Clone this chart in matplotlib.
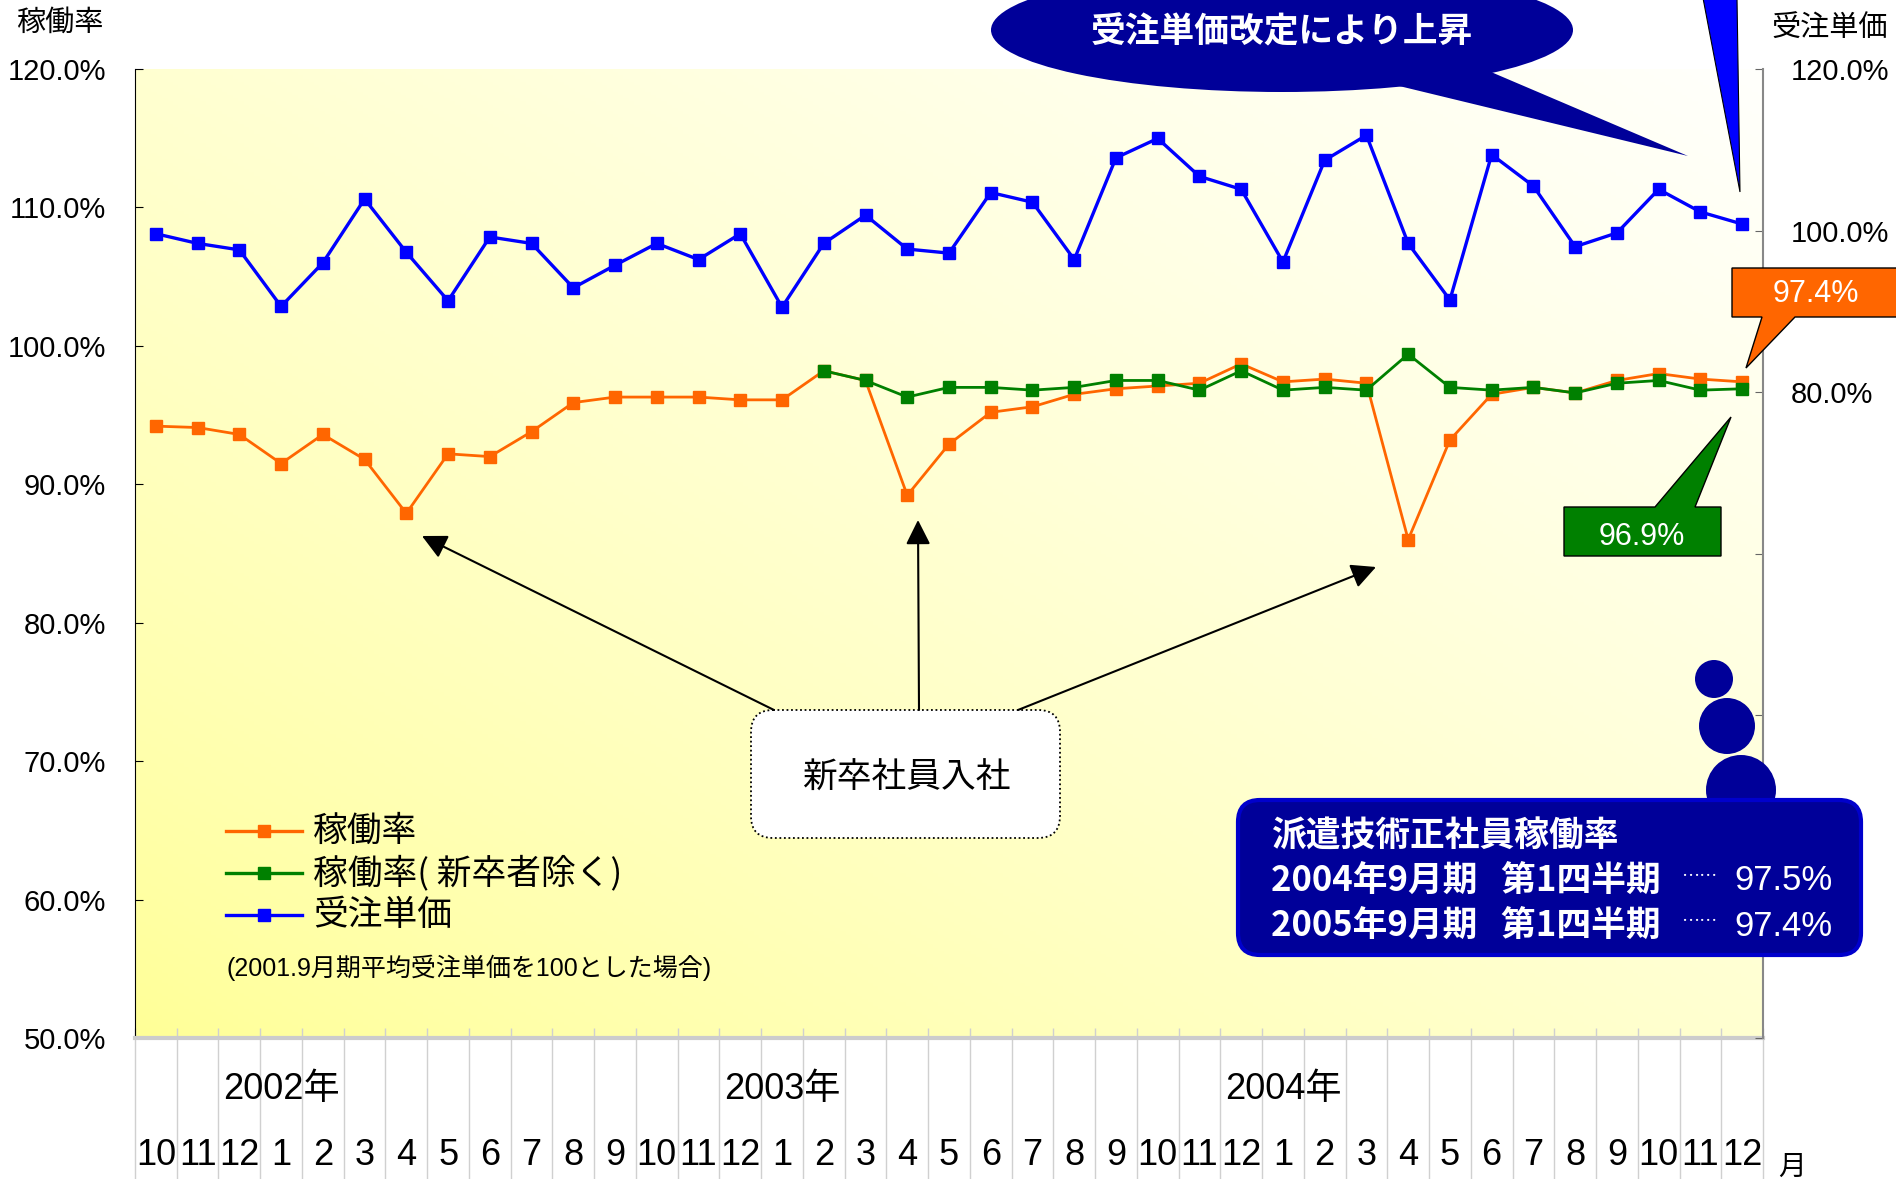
import numpy as np
import matplotlib
matplotlib.use("Agg")
import matplotlib.pyplot as plt
from matplotlib import font_manager as fm
from matplotlib.patches import Ellipse, Polygon, FancyBboxPatch, FancyArrowPatch
from matplotlib.lines import Line2D
from matplotlib.transforms import Affine2D
from matplotlib.ticker import FuncFormatter

# months 2001/10 .. 2004/12
months = ["10", "11", "12"] + [str(m) for m in range(1, 13)] * 3
years = ["2002年", "2003年", "2004年"]
year_pos = [3, 15, 27]

# 稼働率
rate = [94.2, 94.1, 93.6, 91.5, 93.6, 91.8, 87.9, 92.2, 92.0, 93.8,
        95.9, 96.3, 96.3, 96.3, 96.1, 96.1, 98.2, 97.5, 89.2, 92.9,
        95.2, 95.6, 96.5, 96.9, 97.1, 97.3, 98.7, 97.4, 97.6, 97.3,
        86.0, 93.2, 96.5, 97.0, 96.6, 97.5, 98.0, 97.6, 97.4]
# 稼働率(新卒者除く) from 2003/2
rate_ex_start = 16
rate_ex = [98.2, 97.5, 96.3, 97.0,
           97.0, 96.8, 97.0, 97.5, 97.5, 96.8, 98.2, 96.8, 97.0, 96.8,
           99.4, 97.0, 96.8, 97.0, 96.6, 97.3, 97.5, 96.8, 96.9]
# 受注単価 (2001.9 = 100)
price = [99.6, 98.4, 97.6, 90.6, 96.0, 103.9, 97.3, 91.3, 99.2, 98.4,
         92.9, 95.7, 98.4, 96.4, 99.6, 90.5, 98.4, 101.9, 97.7, 97.2,
         104.7, 103.5, 96.4, 109.0, 111.4, 106.7, 105.1, 96.1, 108.7, 111.8,
         98.4, 91.4, 109.4, 105.5, 98.0, 99.7, 105.1, 102.3, 100.8]

names = {f.name for f in fm.fontManager.ttflist}
narrow = "Liberation Sans Narrow" if "Liberation Sans Narrow" in names else "Liberation Sans"
CJK = "Noto Sans CJK JP"
plt.rcParams["font.family"] = [narrow, CJK, "DejaVu Sans"]

W, H = 1896, 1179
fig = plt.figure(figsize=(W / 100, H / 100), dpi=100)
fig.patch.set_facecolor("white")
# pixel coords measured from top-left
PX = Affine2D().scale(1 / W, -1 / H).translate(0, 1) + fig.transFigure


def ftext(x, y, s, **kw):
    fig.text(x / W, 1 - y / H, s, **kw)


ax = fig.add_axes([135 / W, 1 - 1038 / H, (1763 - 135) / W, (1038 - 69) / H])
ax.set_facecolor("none")

# yellow -> white diagonal background
gx, gy = np.meshgrid(np.linspace(0, 1, 300), np.linspace(0, 1, 300))
t = np.clip((gx + gy) / 2, 0, 1) ** 0.8
yel = np.array([255, 255, 150]) / 255
wht = np.array([255, 255, 252]) / 255
img = yel[None, None, :] * (1 - t[..., None]) + wht[None, None, :] * t[..., None]
ax.imshow(img, extent=[0, 1, 0, 1], transform=ax.transAxes, origin="lower",
          aspect="auto", zorder=0)

x = np.arange(len(months))
ax.plot(x, rate, color="#FF6600", lw=2, marker="s", ms=8, zorder=3)
ax.plot(np.arange(rate_ex_start, rate_ex_start + len(rate_ex)), rate_ex,
        color="#008000", lw=2, marker="s", ms=8, zorder=4)

ax.set_xlim(-0.5, len(months) - 0.5)
ax.set_ylim(50, 120)
ax.set_yticks(np.arange(50, 121, 10))
ax.yaxis.set_major_formatter(FuncFormatter(lambda v, p: f"{v:.1f}%"))
ax.tick_params(axis="y", direction="in", length=6, labelsize=21, pad=21)
ax.set_xticks(x, labels=months)
ax.tick_params(axis="x", length=0, labelsize=26, pad=72)
for s in ["top", "right"]:
    ax.spines[s].set_visible(False)
ax.spines["left"].set_color("black")
ax.spines["bottom"].set_color("#CCCCCC")
ax.spines["bottom"].set_linewidth(3)

# category separator lines under the axis
ax.vlines(np.arange(-0.5, len(months)), -0.146, 0.01, transform=ax.get_xaxis_transform(),
          colors="#D0D0D0", lw=1, clip_on=False, zorder=1)
for yl, xp in zip(years, year_pos):
    ax.text(xp, -0.053, yl, transform=ax.get_xaxis_transform(), ha="center",
            va="center", fontsize=26)

ax2 = ax.twinx()
ax2.plot(x, price, color="#0000FF", lw=2.4, marker="s", ms=8.5, zorder=3)
ax2.set_ylim(0, 120)
ax2.set_yticks(np.arange(0, 121, 20))
ax2.yaxis.set_major_formatter(FuncFormatter(lambda v, p: f"{v:.1f}%" if v >= 80 else ""))
ax2.tick_params(axis="y", direction="in", length=6, labelsize=21, pad=20, color="#666666")
for s in ["top", "left", "bottom"]:
    ax2.spines[s].set_visible(False)
ax2.spines["right"].set_color("#888888")
ax2.spines["right"].set_linewidth(1.5)

# axis titles
ftext(60, 23, "稼働率", ha="center", va="center", fontsize=21, family=[CJK])
ftext(1830, 29, "受注単価", ha="center", va="center", fontsize=21, family=[CJK])
ftext(1792, 1167, "月", ha="center", va="center", fontsize=20, family=[CJK])

# legend (drawn by hand)
leg = [("稼働率", "#FF6600"), ("稼働率( 新卒者除く)", "#008000"), ("受注単価", "#0000FF")]
for i, (lab, col) in enumerate(leg):
    yy = 831 + i * 42
    fig.add_artist(Line2D([226, 302], [yy, yy], color=col, lw=2.4, transform=PX))
    fig.add_artist(Line2D([264], [yy], color=col, marker="s", ms=8.5, transform=PX))
    ftext(313, yy, lab, ha="left", va="center", fontsize=25, family=[CJK, "DejaVu Sans"])
ftext(227, 968, "(2001.9月期平均受注単価を100とした場合)", ha="left", va="center",
      fontsize=18)

# speech ellipse at top
navy = "#000099"
fig.add_artist(Polygon([(1395, 85), (1491, 72), (1688, 156)], closed=True,
                       fc=navy, ec="none", transform=PX))
fig.add_artist(Ellipse((1282, 30), 582, 124, fc=navy, ec="none", transform=PX))
ftext(1282, 32, "受注単価改定により上昇", ha="center", va="center", fontsize=25,
      color="white", fontweight="bold", family=[CJK])

# blue wedge pointing down to last price point
fig.add_artist(Polygon([(1703, -2), (1737, -2), (1740, 192)], closed=True,
                       fc="#0000FF", ec="black", lw=0.8, transform=PX))

# value callouts
fig.add_artist(Polygon([(1732, 268), (1900, 268), (1900, 317), (1795, 317), (1746, 368),
                        (1762, 317), (1732, 317)], closed=True,
                       fc="#FF6600", ec="black", lw=1, transform=PX))
ftext(1816, 294, "97.4%", ha="center", va="center", fontsize=22, color="white",
      family=["Liberation Sans"])
fig.add_artist(Polygon([(1564, 507), (1655, 507), (1731, 417), (1695, 507), (1721, 507),
                        (1721, 556), (1564, 556)], closed=True,
                       fc="#008000", ec="black", lw=1, transform=PX))
ftext(1642, 537, "96.9%", ha="center", va="center", fontsize=22, color="white",
      family=["Liberation Sans"])

# thought bubbles + navy box
for cx, cy, r in [(1714, 679, 19), (1727, 726, 28), (1741, 790, 35)]:
    fig.add_artist(Ellipse((cx, cy), 2 * r, 2 * r, fc=navy, ec="none", transform=PX))
fig.add_artist(FancyBboxPatch((1238, 800), 623, 155, boxstyle="round,pad=0,rounding_size=22",
                              fc=navy, ec="#0000CC", lw=3, transform=PX))
ftext(1271, 836, "派遣技術正社員稼働率", ha="left", va="center", fontsize=25,
      color="white", fontweight="bold", family=[CJK])
for yy, lab, val in [(881, "2004年9月期   第1四半期", "97.5%"),
                     (926, "2005年9月期   第1四半期", "97.4%")]:
    ftext(1271, yy, lab, ha="left", va="center", fontsize=25, color="white",
          fontweight="bold", family=[CJK])
    ftext(1699, yy - 4, "……", ha="center", va="center", fontsize=13, color="white",
          family=[CJK])
    ftext(1833, yy, val, ha="right", va="center", fontsize=25, color="white",
          family=[narrow])

# new graduates box and arrows
fig.add_artist(FancyBboxPatch((751, 710), 309, 128, boxstyle="round,pad=0,rounding_size=22",
                              fc="white", ec="black", lw=1.3, ls=(0, (1, 1.5)), transform=PX))
ftext(906, 778, "新卒社員入社", ha="center", va="center", fontsize=25, family=[CJK])
for a, b in [((774, 710), (422, 536)), ((919, 710), (918, 520)), ((1018, 710), (1376, 567))]:
    fig.add_artist(FancyArrowPatch(a, b, transform=PX, arrowstyle="-|>,head_length=0.5,head_width=0.25",
                                   mutation_scale=30, lw=1.5, color="black",
                                   shrinkA=0, shrinkB=0))

fig.savefig("out.png", dpi=100)
